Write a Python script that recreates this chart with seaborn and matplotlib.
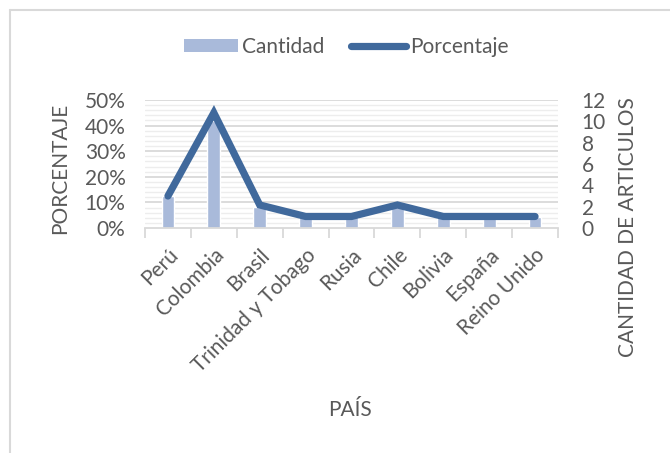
import numpy as np
import pandas as pd
import matplotlib
matplotlib.use('Agg')
import matplotlib.pyplot as plt
import seaborn as sns
from matplotlib.patches import Patch
from matplotlib.lines import Line2D
from matplotlib.ticker import FixedLocator, PercentFormatter

# Data
paises = ['Perú', 'Colombia', 'Brasil', 'Trinidad y Tobago', 'Rusia',
          'Chile', 'Bolivia', 'España', 'Reino Unido']
cantidad = [3, 10, 2, 1, 1, 2, 1, 1, 1]
porcentaje = [12.5, 45.0, 9.0, 4.5, 4.5, 9.0, 4.5, 4.5, 4.5]

df = pd.DataFrame({'Pais': paises, 'Cantidad': cantidad, 'Porcentaje': porcentaje})

sns.set_style('white')
plt.rcParams['font.family'] = ['Lato', 'DejaVu Sans']

txt = '#595959'
bar_color = '#A9BADA'
line_color = '#40699C'
grid_major = '#D9D9D9'
grid_minor = '#EDEDED'
fs = 15

fig = plt.figure(figsize=(6.7, 4.53), dpi=100)
ax = fig.add_axes([145 / 670, 1 - 228 / 453, 413 / 670, 128 / 453])

# Bars (Cantidad) on the primary axes, shown on the right
sns.barplot(data=df, x='Pais', y='Cantidad', color=bar_color, width=0.28,
            saturation=1, ax=ax, zorder=2)
ax.set_ylim(0, 12)
ax.set_xlim(-0.5, len(paises) - 0.5)

# grid follows the percentage axis (major 10 %, minor 2 %)
for p in range(2, 51, 2):
    c = grid_major if p % 10 == 0 else grid_minor
    ax.axhline(p * 12 / 50, color=c, lw=1.3 if p % 10 == 0 else 1.0, zorder=0)

# Line (Porcentaje) on the twin axes, shown on the left
ax2 = ax.twinx()
sns.lineplot(data=df, x='Pais', y='Porcentaje', color=line_color, lw=5.2,
             solid_capstyle='round', solid_joinstyle='miter', ax=ax2, zorder=3)
ax2.set_ylim(0, 50)
ax2.set_xlim(-0.5, len(paises) - 0.5)

ax.yaxis.tick_right()
ax.set_yticks(range(0, 13, 2))
ax.tick_params(axis='y', length=0, pad=17, labelsize=fs, labelcolor=txt)

ax2.yaxis.tick_left()
ax2.set_yticks(range(0, 51, 10))
ax2.yaxis.set_major_formatter(PercentFormatter(decimals=0))
ax2.tick_params(axis='y', length=0, pad=14, labelsize=fs, labelcolor=txt)

for a in (ax, ax2):
    a.set_xlabel('')
    a.set_ylabel('')
    for s in ['top', 'left', 'right']:
        a.spines[s].set_visible(False)
    a.spines['bottom'].set_color(grid_major)
    a.spines['bottom'].set_linewidth(1.3)
ax2.spines['bottom'].set_visible(False)

ax.set_xticks(range(len(paises)))
ax.set_xticklabels(paises, rotation=45, ha='right', rotation_mode='anchor')
ax.xaxis.set_minor_locator(FixedLocator(np.arange(-0.5, len(paises), 1)))
ax.tick_params(axis='x', which='major', length=0, pad=12, labelsize=fs, labelcolor=txt)
ax.tick_params(axis='x', which='minor', length=7, width=1.3, color=grid_major, bottom=True)
ax2.tick_params(axis='x', which='both', length=0, labelbottom=False)

# axis titles
fig.text(60 / 670, 1 - 168 / 453, 'PORCENTAJE', rotation=90, ha='center', va='center',
         fontsize=fs, color=txt)
fig.text(628 / 670, 1 - 227 / 453, 'CANTIDAD DE ARTICULOS', rotation=90, ha='center',
         va='center', fontsize=fs, color=txt)
fig.text(350 / 670, 1 - 410 / 453, 'PAÍS', ha='center', va='center', fontsize=fs, color=txt)

# legend
handles = [Patch(facecolor=bar_color, edgecolor='none'),
           Line2D([0], [0], color=line_color, lw=5.2, solid_capstyle='round')]
fig.legend(handles, ['Cantidad', 'Porcentaje'], loc='center', ncol=2,
           bbox_to_anchor=(346 / 670, 1 - 47 / 453), frameon=False, fontsize=fs,
           labelcolor=txt, handlelength=2.6, handleheight=0.55, handletextpad=0.2,
           columnspacing=1.3)

# chart frame (left and top edges visible in the reference)
fig.add_artist(Line2D([9.5 / 670, 9.5 / 670], [0, 1 - 10 / 453], color=grid_major, lw=1.5))
fig.add_artist(Line2D([9.5 / 670, 1], [1 - 10 / 453, 1 - 10 / 453], color=grid_major, lw=1.5))

fig.savefig('out.png', dpi=100)
